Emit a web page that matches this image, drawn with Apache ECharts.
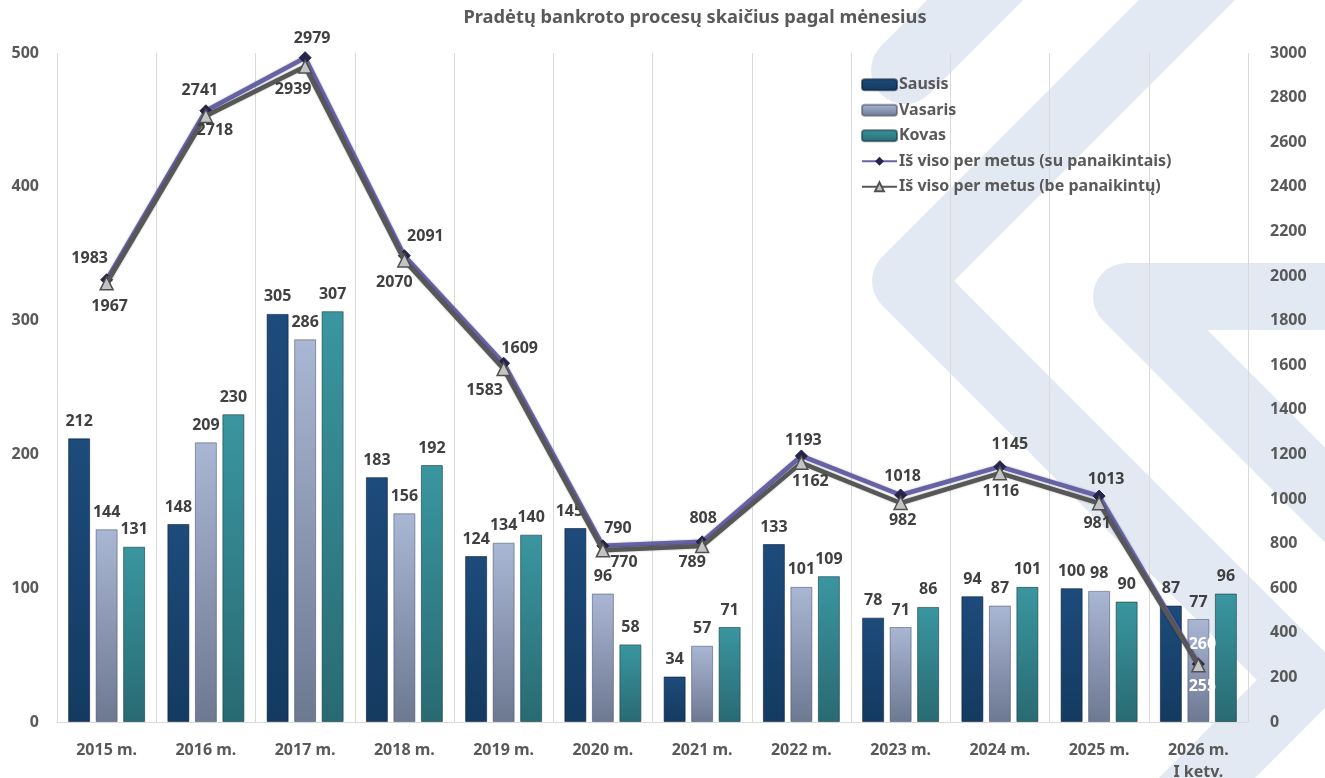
<!DOCTYPE html>
<html>
<head>
<meta charset="utf-8">
<script src="https://cdn.jsdelivr.net/npm/echarts@6/dist/echarts.min.js"></script>
<style>
html,body{margin:0;padding:0;background:#fff;}
#c{width:1325px;height:778px;}
</style>
</head>
<body>
<div id="c"></div>
<script>
// ---- data ----
const categories = ['2015 m.','2016 m.','2017 m.','2018 m.','2019 m.','2020 m.','2021 m.','2022 m.','2023 m.','2024 m.','2025 m.','2026 m.\nI ketv.'];
const sausis  = [212,148,305,183,124,145,34,133,78,94,100,87];
const vasaris = [144,209,286,156,134,96,57,101,71,87,98,77];
const kovas   = [131,230,307,192,140,58,71,109,86,101,90,96];
const totalWith    = [1983,2741,2979,2091,1609,790,808,1193,1018,1145,1013,260];
const totalWithout = [1967,2718,2939,2070,1583,770,789,1162,982,1116,981,255];
const leftTicks = [0,100,200,300,400,500];
const rightTicks = [0,200,400,600,800,1000,1200,1400,1600,1800,2000,2200,2400,2600,2800,3000];

// ---- label offsets (style) ----
const offWith = [[-17,-21],[-6,-20],[7,-19],[21,-19],[16,-15],[15,-17],[1,-23],[2,-16],[2,-19],[10,-22],[7,-17],[4,-20]];
const offWithout = [[3,23],[9,15],[-12,23],[-10,22],[-19,21],[21,12],[-10,16],[9,19],[2,17],[1,18],[-2,20],[4,21]];
const sausisLabelOff = {5:[-6,0]};

const FONT = 'Noto Sans';
const TXT = '#595959';
const LBL = '#404040';
const WM = '#e3e9f2';
const FS = 16;

function grad(top, bottom){
  return new echarts.graphic.LinearGradient(0,0,0,1,[{offset:0,color:top},{offset:1,color:bottom}]);
}

const barLabel = {show:true, position:'top', distance:9, color:LBL, fontFamily:FONT, fontWeight:'bold', fontSize:FS};

function lineData(vals, offs, lastWhite){
  return vals.map((v,i)=>{
    const d = {value:v, label:{offset:offs[i]}};
    if (lastWhite && i === vals.length-1) d.label.color = '#ffffff';
    return d;
  });
}
function barData(vals, offMap){
  return vals.map((v,i)=> offMap && offMap[i] ? {value:v, label:{offset:offMap[i]}} : v);
}

const chart = echarts.init(document.getElementById('c'), null, {renderer:'canvas'});
chart.setOption({
  backgroundColor:'#ffffff',
  animation:false,
  graphic:[
    {type:'polyline', z:-10, silent:true, shape:{points:[[1015,-40],[905,70]]},
     style:{stroke:WM, fill:null, lineWidth:68, lineCap:'round'}},
    {type:'polyline', z:-10, silent:true, shape:{points:[[1247,-60],[906,281],[1305,680],[1155,830]]},
     style:{stroke:WM, fill:null, lineWidth:68, lineJoin:'round'}},
    {type:'polyline', z:-10, silent:true, shape:{points:[[1400,296.5],[1126.5,296.5],[1626,796]]},
     style:{stroke:WM, fill:null, lineWidth:67, lineJoin:'round'}},
    {type:'text', x:695, y:18, z:5,
     style:{text:'Pradėtų bankroto procesų skaičius pagal mėnesius', fill:TXT, font:'bold 18.3px "Noto Sans"',
       textAlign:'center', textVerticalAlign:'middle'}}
  ],
  legend:{
    orient:'vertical', left:856, top:71, itemWidth:35, itemHeight:11, itemGap:8,
    textStyle:{color:TXT, fontFamily:FONT, fontWeight:'bold', fontSize:FS, padding:[0,0,0,-3], lineHeight:17.5},
    data:['Sausis','Vasaris','Kovas','Iš viso per metus (su panaikintais)','Iš viso per metus (be panaikintų)']
  },
  grid:{left:57, right:77, top:53, bottom:56, containLabel:false, outerBoundsMode:'none'},
  xAxis:{
    type:'category', data:categories, boundaryGap:true,
    axisLine:{show:true, lineStyle:{color:'#d9d9d9', width:1}},
    axisTick:{show:false},
    splitLine:{show:true, lineStyle:{color:'#d9d9d9', width:1}},
    axisLabel:{color:TXT, fontFamily:FONT, fontWeight:'bold', fontSize:FS, margin:17, lineHeight:22, interval:0}
  },
  yAxis:[
    {type:'value', min:0, max:500, interval:100, position:'left',
     axisLine:{show:false}, axisTick:{show:false}, splitLine:{show:false},
     axisLabel:{color:TXT, fontFamily:FONT, fontWeight:'bold', fontSize:FS, margin:18,
       customValues:leftTicks, formatter:(v)=>String(v)}},
    {type:'value', min:0, max:3000, interval:200, position:'right',
     axisLine:{show:false}, axisTick:{show:false}, splitLine:{show:false},
     axisLabel:{color:TXT, fontFamily:FONT, fontWeight:'bold', fontSize:FS, margin:22,
       customValues:rightTicks, formatter:(v)=>String(v)}}
  ],
  series:[
    {name:'Sausis', type:'bar', data:barData(sausis, sausisLabelOff), barWidth:22, barGap:'25%',
     itemStyle:{color:grad('#1d4b7b','#143a60'), borderColor:'rgba(10,30,60,0.6)', borderWidth:1},
     label:barLabel},
    {name:'Vasaris', type:'bar', data:vasaris, barWidth:22, barGap:'25%',
     itemStyle:{color:grad('#aab7d4','#6d7891'), borderColor:'rgba(60,70,90,0.5)', borderWidth:1},
     label:barLabel},
    {name:'Kovas', type:'bar', data:kovas, barWidth:22, barGap:'25%',
     itemStyle:{color:grad('#3a96a0','#296a72'), borderColor:'rgba(20,60,65,0.6)', borderWidth:1},
     label:barLabel},
    {name:'Iš viso per metus (su panaikintais)', type:'line', yAxisIndex:1,
     data:lineData(totalWith, offWith, true),
     symbol:'diamond', symbolSize:12,
     lineStyle:{color:'#6662a6', width:4.5, shadowColor:'rgba(0,0,0,0.35)', shadowBlur:2},
     itemStyle:{color:'#25254a', borderColor:'#25254a'},
     label:{show:true, position:'inside', color:LBL, fontFamily:FONT, fontWeight:'bold', fontSize:FS},
     z:5},
    {name:'Iš viso per metus (be panaikintų)', type:'line', yAxisIndex:1,
     data:lineData(totalWithout, offWithout, true),
     symbol:'triangle', symbolSize:13,
     lineStyle:{color:'#575757', width:4.5, shadowColor:'rgba(0,0,0,0.35)', shadowBlur:2},
     itemStyle:{color:'#c4c4c4', borderColor:'#505050', borderWidth:1.5},
     label:{show:true, position:'inside', color:LBL, fontFamily:FONT, fontWeight:'bold', fontSize:FS},
     z:6}
  ]
});
</script>
</body>
</html>
